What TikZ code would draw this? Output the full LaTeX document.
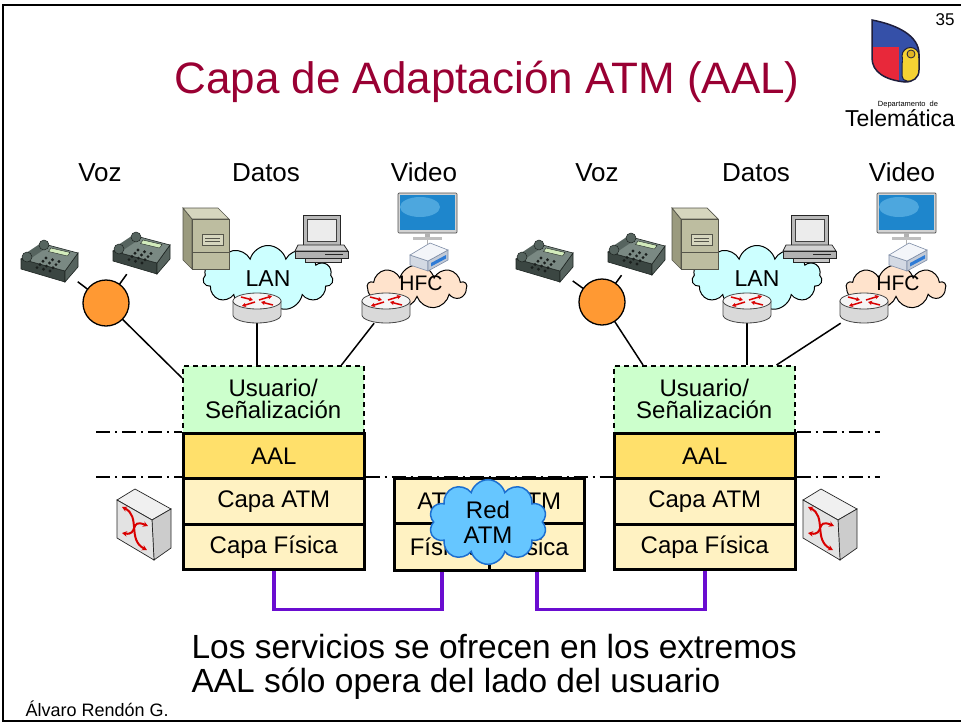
\documentclass[tikz,border=0pt]{standalone}
\usepackage{fontspec}
\setmainfont{Liberation Sans}
\usetikzlibrary{shapes.symbols,arrows.meta}

\definecolor{titlered}{HTML}{990033}
\definecolor{userfill}{HTML}{CCFFCC}
\definecolor{aalfill}{HTML}{FFE06B}
\definecolor{lowfill}{HTML}{FFF2C2}
\definecolor{atmcloud}{HTML}{66C6FF}
\definecolor{atmcloudline}{HTML}{1C6FD0}
\definecolor{lancloud}{HTML}{CCFFFF}
\definecolor{hfccloud}{HTML}{FFE3CC}
\definecolor{pbxorange}{HTML}{FF9933}
\definecolor{physviolet}{HTML}{6A0DD0}
\definecolor{phonetop}{HTML}{7A8983}
\definecolor{phonefront}{HTML}{3B4642}
\definecolor{phoneside}{HTML}{56635E}
\definecolor{phoneline}{HTML}{1E2522}
\definecolor{phonescreen}{HTML}{D2EBBC}
\definecolor{phonekey}{HTML}{1A1F1D}
\definecolor{phonehandset}{HTML}{56645F}
\definecolor{towerfront}{HTML}{BDBDA0}
\definecolor{towerside}{HTML}{9A9A7E}
\definecolor{towertop}{HTML}{D6D6BE}
\definecolor{towerline}{HTML}{55554A}
\definecolor{tvblue}{HTML}{1E86CC}
\definecolor{tvlight}{HTML}{62B6E6}
\definecolor{stbtop}{HTML}{F3F5F9}
\definecolor{stbfront}{HTML}{D3D9E3}
\definecolor{stbside}{HTML}{C2CAD7}
\definecolor{stbstripe}{HTML}{2E7BD6}
\definecolor{stbline}{HTML}{7D8CA6}
\definecolor{logoblue}{HTML}{3550A8}
\definecolor{logored}{HTML}{E8283A}
\definecolor{logoyellow}{HTML}{F6D233}
\definecolor{logoyellowdark}{HTML}{E0B422}
\definecolor{logoline}{HTML}{1E1E3C}

\newcommand\pxfont[2]{\fontsize{#1}{#2}\selectfont}

\tikzset{
  cell/.style={draw, line width=2.5pt, inner sep=0pt, anchor=north west,
    font=\pxfont{24}{22}, align=center},
  usercell/.style={cell, draw, line width=1.5pt, dash pattern=on 5pt off 4pt,
    fill=userfill, minimum height=67pt},
  hotspot/.style={inner sep=0pt, draw=none},
  sepline/.style={line width=1.5pt, dash pattern=on 14pt off 5pt on 2pt off 5pt},
  link/.style={line width=1.5pt},
  phys/.style={line width=3.5pt, draw=physviolet},
  servicelabel/.style={anchor=base, font=\pxfont{26}{30}},
  pbx/.style={circle, draw, line width=1.3pt, fill=pbxorange, minimum size=46pt, inner sep=0pt},
  redarrow/.style={red!85!black, line width=1.5pt, -{Stealth[length=4pt,width=4.5pt]}},
  % desk telephone, centred on its origin
  deskphone/.pic={
    \path[fill=phonefront, draw=phoneline, line width=0.6pt]
      (-29,-2) -- (15,10) -- (15,21) -- (-29,8) -- cycle;
    \path[fill=phoneside, draw=phoneline, line width=0.6pt]
      (15,10) -- (28,-8) -- (28,6) -- (15,21) -- cycle;
    \path[fill=phonetop, draw=phoneline, line width=0.6pt]
      (-29,-2) -- (-6,-17) -- (28,-8) -- (15,10) -- cycle;
    \path[fill=phonescreen, draw=phoneline, line width=0.4pt]
      (1,-13) -- (20,-8.5) -- (17.5,-5) -- (-1.5,-9.5) -- cycle;
    \foreach \i in {0,1,2,3} \foreach \j in {0,1,2}
      \fill[phonekey] ({-4+6.5*\j-3*\i},{-3+1.7*\j+3.2*\i}) circle[radius=1.6];
    \draw[line width=7pt, line cap=round, draw=phonehandset] (-22,-5) -- (-7,-15);
    \path[fill=phonehandset, draw=phoneline, line width=0.5pt]
      (-23,-4) circle[radius=5] (-6,-16) circle[radius=5];
  },
  % tower server, origin at its top left corner
  tower/.pic={
    \path[fill=towerside, draw=towerline, line width=0.7pt]
      (0,0) -- (9,11) -- (9,61) -- (0,52) -- cycle;
    \path[fill=towertop, draw=towerline, line width=0.7pt]
      (0,0) -- (35,0) -- (46,11) -- (9,11) -- cycle;
    \path[fill=towerfront, draw=towerline, line width=0.7pt]
      (9,11) rectangle (46,61);
    \draw[towerline, line width=0.6pt] (9,44) -- (46,44);
    \path[fill=towertop, draw=towerline, line width=0.6pt] (19,26) rectangle (40,37);
    \draw[towerline, line width=0.5pt] (22,30) -- (37,30) (22,33) -- (37,33);
  },
  % desktop computer, origin at its top left corner
  desktop/.pic={
    \path[fill=gray!55, draw=gray!30!black, line width=0.7pt] (8,2) rectangle (45,32);
    \path[fill=gray!15, draw=gray!50!black, line width=0.5pt] (12,6) rectangle (41,28);
    \path[fill=gray!35, draw=gray!30!black, line width=0.7pt]
      (3,32) -- (49,32) -- (53,38) -- (0,38) -- cycle;
    \path[fill=gray!60, draw=gray!30!black, line width=0.7pt] (0,38) rectangle (53,45);
    \draw[gray!30!black, line width=0.5pt] (30,41.5) -- (48,41.5);
    \path[fill=gray!45, draw=gray!30!black, line width=0.5pt] (10,45) rectangle (46,49);
  },
  % flat screen, origin at its top left corner
  flatscreen/.pic={
    \path[fill=gray!35, draw=gray!60!black, line width=0.7pt, rounded corners=1pt]
      (0,0) rectangle (59,40);
    \fill[tvblue] (2,2) rectangle (57,37);
    \begin{scope}
      \clip (2,2) rectangle (57,37);
      \fill[tvlight, opacity=0.7] (22,14) ellipse [x radius=20, y radius=10];
    \end{scope}
    \fill[gray!60] (27,40) rectangle (32,45);
    \fill[gray!50] (15,44) rectangle (44,47);
    \draw[gray!60, line width=0.8pt] (29,47) -- (29,51);
  },
  % set-top box, origin at its top left corner
  settop/.pic={
    \path[fill=stbfront, draw=stbline, line width=0.6pt]
      (1,12) -- (19,18) -- (19,28) -- (1,22) -- cycle;
    \path[fill=stbside, draw=stbline, line width=0.6pt]
      (19,18) -- (39,7) -- (39,17) -- (19,28) -- cycle;
    \path[fill=stbtop, draw=stbline, line width=0.6pt]
      (1,12) -- (21,0) -- (39,7) -- (19,18) -- cycle;
    \fill[stbstripe] (22,20) -- (37,12) -- (37,15.5) -- (22,23.5) -- cycle;
  },
  % router, origin at the centre of its top face
  routericon/.pic={
    \path[fill=gray!30, draw=gray!55!black, line width=0.8pt]
      (-24,0) -- (-24,14) arc[start angle=180, end angle=0, x radius=24, y radius=8]
      -- (24,0) -- cycle;
    \path[fill=gray!8, draw=gray!55!black, line width=0.8pt]
      (0,0) ellipse [x radius=24, y radius=8];
    \draw[redarrow] (-2,1) -- (-15,5);
    \draw[redarrow] (2,-1) -- (15,-5);
    \draw[redarrow] (-16,-4) -- (-4,-1);
    \draw[redarrow] (16,4) -- (4,1);
  },
  % ATM switch, origin at the upper left corner of its front face
  atmswitch/.pic={
    \path[fill=gray!12, draw=gray!30!black, line width=0.7pt]
      (0,0) -- (18,-11) -- (54,9) -- (35,20) -- cycle;
    \path[fill=gray!40, draw=gray!30!black, line width=0.7pt]
      (35,20) -- (54,9) -- (54,48) -- (37,60) -- cycle;
    \path[fill=gray!22, draw=gray!30!black, line width=0.7pt]
      (0,0) -- (35,20) -- (37,60) -- (0,38) -- cycle;
    \draw[red!85!black, line width=2pt,
      {Stealth[length=5pt,width=5.5pt]}-{Stealth[length=5pt,width=5.5pt]}]
      (5,7) .. controls (24,16) and (10,40) .. (30,50);
    \draw[red!85!black, line width=2pt,
      {Stealth[length=5pt,width=5.5pt]}-{Stealth[length=5pt,width=5.5pt]}]
      (5,33) .. controls (22,36) and (12,18) .. (31,26);
  },
}

\begin{document}
\begin{tikzpicture}[x=1pt, y=-1pt]
\useasboundingbox (0,0) rectangle (961,723);

% slide frame
\draw[line width=2.5pt] (961,5) -- (3,5) -- (3,721) -- (961,721);

% heading, page number and department logo
\node[anchor=base, text=titlered, font=\pxfont{44}{50}] (title) at (487,93)
  {Capa de Adaptación ATM (AAL)};
\node[anchor=base, font=\pxfont{17}{20}] (pagenum) at (945,25) {35};
\begin{scope}
  \clip (872,20) .. controls (898,25) and (919,36) .. (919,54) -- (919,70)
    .. controls (919,78) and (913,82) .. (905,82)
    .. controls (885,80) and (872,72) .. (872,58) -- cycle;
  \fill[logoblue] (860,10) rectangle (930,90);
  \fill[logored] (860,47) rectangle (899,90);
  \path[fill=logoyellow, draw=logoline, line width=1pt, rounded corners=5pt]
    (902,58) rectangle (920,81);
  \path[fill=logoyellow, draw=logoline, line width=1pt] (910.5,56) circle[radius=8.5];
  \fill[logoyellow] (903,58) rectangle (918.5,66);
  \path[fill=logoyellowdark, draw=logoline, line width=0.8pt] (911,54) circle[radius=4];
\end{scope}
\draw[logoline, line width=1.5pt] (872,20) .. controls (898,25) and (919,36) .. (919,54)
  -- (919,70) .. controls (919,78) and (913,82) .. (905,82)
  .. controls (885,80) and (872,72) .. (872,58) -- cycle;
\node[anchor=base, font=\pxfont{7.5}{8}] (dept) at (908,106) {Departamento\ \ de};
\node[anchor=base, font=\pxfont{23}{26}] (telem) at (900,126) {Telemática};

% service labels
\node[servicelabel] (vozL) at (100,181) {Voz};
\node[servicelabel] (datL) at (266,181) {Datos};
\node[servicelabel] (vidL) at (424,181) {Video};
\node[servicelabel] (vozR) at (597,181) {Voz};
\node[servicelabel] (datR) at (756,181) {Datos};
\node[servicelabel] (vidR) at (902,181) {Video};

% access networks
\node[cloud, cloud puffs=11, cloud ignores aspect, draw, line width=1pt, fill=lancloud,
  minimum width=130pt, minimum height=65pt] (lanL) at (268,278) {};
\node[cloud, cloud puffs=11, cloud ignores aspect, draw, line width=1pt, fill=lancloud,
  minimum width=130pt, minimum height=65pt] (lanR) at (757,278) {};
\node[cloud, cloud puffs=9, cloud ignores aspect, draw, line width=1pt, fill=hfccloud,
  minimum width=99pt, minimum height=44pt] (hfcL) at (417,287) {};
\node[cloud, cloud puffs=9, cloud ignores aspect, draw, line width=1pt, fill=hfccloud,
  minimum width=99pt, minimum height=44pt] (hfcR) at (896,287) {};
\node[font=\pxfont{23}{26}] (lanLtext) at (268,279) {LAN};
\node[font=\pxfont{23}{26}] (lanRtext) at (757,279) {LAN};
\node[font=\pxfont{21}{24}] (hfcLtext) at (421,283) {HFC};
\node[font=\pxfont{21}{24}] (hfcRtext) at (898,283) {HFC};

% protocol stacks of the two end systems
\node[usercell, minimum width=181pt] (uL) at (182,365) {Usuario/\\Señalización};
\node[cell, fill=aalfill, minimum width=181pt, minimum height=45pt] (aalL) at (182,432) {AAL};
\node[cell, fill=lowfill, minimum width=181pt, minimum height=46pt] (atmL) at (182,477) {Capa ATM};
\node[cell, fill=lowfill, minimum width=181pt, minimum height=45pt] (fisL) at (182,523) {Capa Física};

\node[usercell, minimum width=181pt] (uR) at (613,365) {Usuario/\\Señalización};
\node[cell, fill=aalfill, minimum width=181pt, minimum height=45pt] (aalR) at (613,432) {AAL};
\node[cell, fill=lowfill, minimum width=181pt, minimum height=46pt] (atmR) at (613,477) {Capa ATM};
\node[cell, fill=lowfill, minimum width=181pt, minimum height=45pt] (fisR) at (613,523) {Capa Física};

% layer boundaries
\draw[sepline] (96,432) -- (aalL.north west);
\draw[sepline] (96,477) -- (atmL.north west);
\draw[sepline] (aalR.north east) -- (880,432);
\draw[sepline] (atmR.north east) -- (880,477);
\draw[sepline] (atmL.north east) -- (atmR.north west);

% the switch inside the ATM network
\node[cell, fill=lowfill, minimum width=95pt, minimum height=45pt] (atmM1) at (393,477) {ATM};
\node[cell, fill=lowfill, minimum width=95pt, minimum height=47pt] (fisM1) at (393,522) {Física};
\node[cell, fill=lowfill, minimum width=95pt, minimum height=45pt] (atmM2) at (488,477) {ATM};
\node[cell, fill=lowfill, minimum width=95pt, minimum height=47pt] (fisM2) at (488,522) {Física};
\node[cloud, cloud puffs=10, cloud ignores aspect, draw=atmcloudline, line width=1.5pt,
  fill=atmcloud, minimum width=118pt, minimum height=68pt, align=center,
  font=\pxfont{24}{25}] (redatm) at (488,522) {Red\\ATM};

% physical links
\draw[phys] (fisL.south) -- ++(0,39) -| (fisM1.south);
\draw[phys] (fisM2.south) -- ++(0,38) -| (fisR.south);

% terminal equipment hot spots
\node[hotspot, minimum width=55pt, minimum height=42pt] (ph1) at (50,261) {};
\node[hotspot, minimum width=55pt, minimum height=42pt] (ph2) at (142,253) {};
\node[hotspot, minimum width=55pt, minimum height=42pt] (ph3) at (545,261) {};
\node[hotspot, minimum width=55pt, minimum height=42pt] (ph4) at (637,254) {};
\node[hotspot, minimum width=49pt, minimum height=30pt] (rtL1) at (257,308) {};
\node[hotspot, minimum width=49pt, minimum height=30pt] (rtL2) at (386,308) {};
\node[hotspot, minimum width=49pt, minimum height=30pt] (rtR1) at (747,308) {};
\node[hotspot, minimum width=49pt, minimum height=30pt] (rtR2) at (864,308) {};
\coordinate (pbxL) at (106,303);
\coordinate (pbxR) at (602,302);

% access lines
\draw[link] (ph1) -- (pbxL);
\draw[link] (ph2) -- (pbxL);
\draw[link] (ph3) -- (pbxR);
\draw[link] (ph4) -- (pbxR);
\draw[link] (pbxL) -- ([yshift=-13pt]uL.north west);
\draw[link] (pbxR) -- ([xshift=30pt]uR.north west);
\draw[link] (rtL1) -- (rtL1 |- uL.north);
\draw[link] (rtL2) -- ([xshift=-23pt]uL.north east);
\draw[link] (rtR1) -- (rtR1 |- uR.north);
\draw[link] (rtR2) -- ([xshift=-19pt]uR.north east);

% voice concentrators
\node[pbx] (pbxnodeL) at (pbxL) {};
\node[pbx] (pbxnodeR) at (pbxR) {};

% equipment
\pic at (ph1) {deskphone};
\pic at (ph2) {deskphone};
\pic at (ph3) {deskphone};
\pic at (ph4) {deskphone};
\pic at (183,208) {tower};
\pic at (672,208) {tower};
\pic at (295,213) {desktop};
\pic at (783,213) {desktop};
\pic at (398,193) {flatscreen};
\pic at (877,193) {flatscreen};
\pic at (409,243) {settop};
\pic at (888,243) {settop};
\pic at (257,301) {routericon};
\pic at (386,301) {routericon};
\pic at (747,301) {routericon};
\pic at (864,301) {routericon};
\pic at (117,500) {atmswitch};
\pic at (803,500) {atmswitch};

% remarks and author
\node[anchor=base west, font=\pxfont{33.5}{36}] (note1) at (188,658)
  {Los servicios se ofrecen en los extremos};
\node[anchor=base west, font=\pxfont{33.5}{36}] (note2) at (188,692)
  {AAL sólo opera del lado del usuario};
\node[anchor=base west, font=\pxfont{18}{20}] (author) at (22,716) {Álvaro Rendón G.};
\end{tikzpicture}
\end{document}
